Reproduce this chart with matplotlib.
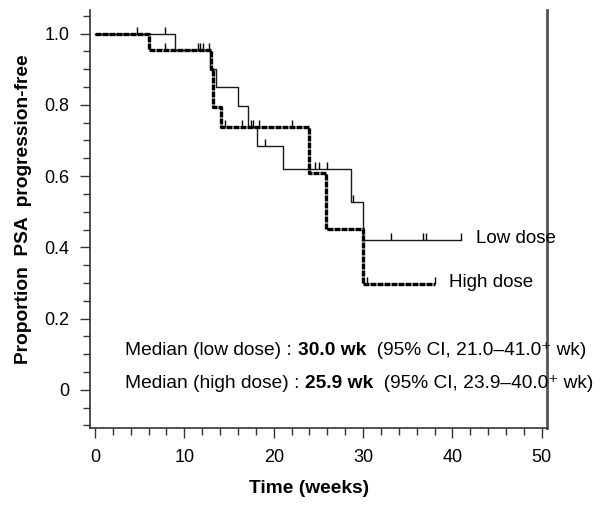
import matplotlib
matplotlib.use('Agg')
import matplotlib.pyplot as plt
from matplotlib.ticker import MultipleLocator, FixedLocator

plt.rcParams['font.family'] = ['Liberation Sans', 'DejaVu Sans']

# Kaplan-Meier steps (time in weeks, proportion free)
low_t = [0, 9.0, 12.9, 13.5, 16.0, 17.1, 18.1, 21.0, 28.7, 30.0, 41.0]
low_s = [1.0, 0.955, 0.902, 0.851, 0.797, 0.737, 0.685, 0.62, 0.527, 0.42, 0.42]
high_t = [0, 6.0, 13.0, 13.25, 14.1, 23.9, 25.9, 30.0, 38.0]
high_s = [1.0, 0.955, 0.902, 0.795, 0.737, 0.61, 0.452, 0.297, 0.297]

# censor marks
low_cens_t = [4.7, 7.8, 16.4, 19.0, 24.6, 25.1, 26.0, 28.9, 33.1, 36.7, 37.0, 41.0]
low_cens_s = [1.0, 1.0, 0.737, 0.685, 0.62, 0.62, 0.62, 0.527, 0.42, 0.42, 0.42, 0.42]
high_cens_t = [7.8, 11.5, 11.8, 12.1, 12.8, 14.6, 17.5, 17.7, 18.4, 22.0, 30.4, 38.0]
high_cens_s = [0.955, 0.955, 0.955, 0.955, 0.955, 0.737, 0.737, 0.737, 0.737, 0.737, 0.297, 0.297]

x_ticks = [0, 10, 20, 30, 40, 50]
y_ticks = [0, 0.2, 0.4, 0.6, 0.8, 1.0]
y_ticklabels = ['0', '0.2', '0.4', '0.6', '0.8', '1.0']

fig = plt.figure(figsize=(6.04, 5.07), dpi=100)
ax = fig.add_axes([0.149, 0.156, 0.757, 0.824])

ax.step(low_t, low_s, where='post', color='#1a1a1a', lw=1.0)
ax.step(high_t, high_s, where='post', color='black', lw=2.4,
        linestyle=(0, (1.8, 0.3)))

tick_h = 0.02
ax.vlines(low_cens_t, low_cens_s, [s + tick_h for s in low_cens_s], color='black', lw=1)
ax.vlines(high_cens_t, high_cens_s, [s + tick_h for s in high_cens_s], color='black', lw=1)

ax.set_xlim(-0.56, 50.6)
ax.set_ylim(-0.107, 1.066)

ax.xaxis.set_major_locator(FixedLocator(x_ticks))
ax.xaxis.set_minor_locator(MultipleLocator(2))
ax.set_yticks(y_ticks)
ax.set_yticklabels(y_ticklabels)
ax.yaxis.set_minor_locator(MultipleLocator(0.05))

ax.tick_params(axis='both', which='major', direction='out', length=7, width=1,
               labelsize=13, pad=8, color='#333333')
ax.tick_params(axis='both', which='minor', direction='out', length=5, width=1,
               color='#333333')

ax.spines['top'].set_visible(False)
for side in ['left', 'bottom']:
    ax.spines[side].set_color('#333333')
    ax.spines[side].set_linewidth(1.2)
ax.spines['right'].set_color('#555555')
ax.spines['right'].set_linewidth(2)

ax.set_xlabel('Time (weeks)', fontsize=13.8, fontweight='bold')
ax.set_ylabel('Proportion  PSA  progression-free', fontsize=13.8, fontweight='bold')
ax.xaxis.set_label_coords(0.479, -0.124)
ax.yaxis.set_label_coords(-0.127, 0.524)

ax.text(42.6, 0.426, 'Low dose', fontsize=13.5, va='center', clip_on=False)
ax.text(39.6, 0.30, 'High dose', fontsize=13.5, va='center', clip_on=False)

# median annotations, pieces chained together
def median_line(y, group, med, ci):
    t1 = ax.text(3.4, y, 'Median (%s) : ' % group, fontsize=13.8, va='baseline', clip_on=False)
    t2 = ax.annotate(med, xycoords=t1, xy=(1, 0), va='bottom', fontsize=13.8,
                     fontweight='bold', annotation_clip=False)
    ax.annotate('  (95% CI, ' + ci + ')', xycoords=t2, xy=(1, 0), va='bottom',
                fontsize=13.8, annotation_clip=False)

median_line(0.098, 'low dose', '30.0 wk', '21.0\u201341.0\u207a wk')
median_line(0.005, 'high dose', '25.9 wk', '23.9\u201340.0\u207a wk')

fig.savefig('out.png', dpi=100)
